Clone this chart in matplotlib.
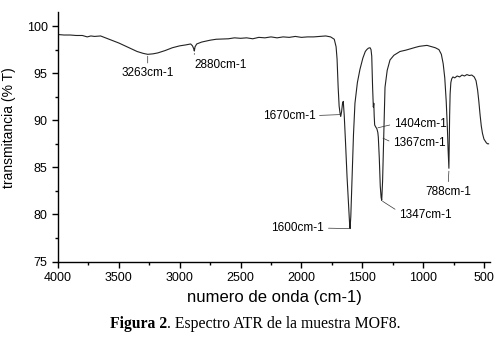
import matplotlib
matplotlib.use("Agg")
import matplotlib.pyplot as plt
from matplotlib.ticker import MultipleLocator

plt.rcParams["font.family"] = ["Liberation Sans", "DejaVu Sans"]

# spectrum (wavenumber cm-1, transmittance %)
wavenumber = [4000, 3950, 3900, 3850, 3800, 3760, 3730, 3700, 3650, 3600,
              3550, 3500, 3450, 3400, 3350, 3300, 3263, 3220, 3180, 3120,
              3060, 3000, 2950, 2910, 2895, 2885, 2880, 2874, 2860, 2820,
              2750, 2700, 2600, 2550, 2500, 2450, 2400, 2350, 2300, 2250,
              2200, 2150, 2100, 2050, 2000, 1950, 1900, 1850, 1800, 1760,
              1730, 1715, 1707, 1698, 1690, 1683, 1677, 1670, 1662, 1656,
              1648, 1638, 1625, 1612, 1604, 1600, 1594, 1585, 1572, 1560,
              1540, 1519, 1495, 1475, 1463, 1450, 1436, 1428, 1422, 1415,
              1409, 1405, 1402, 1398, 1390, 1380, 1372, 1368, 1360, 1352,
              1345, 1340, 1333, 1327, 1320, 1313, 1295, 1272, 1240, 1190,
              1140, 1100, 1060, 1030, 1000, 968, 940, 900, 870,
              850, 835, 822, 810, 800, 795, 790, 788, 786, 782, 778, 772,
              765, 755, 740, 720, 700, 680, 660, 640, 620, 600, 580, 565,
              552, 542, 532, 522, 512, 500, 490, 480, 470, 462]
transmittance = [99.1, 99.05, 99.05, 99.0, 99.0, 98.85, 98.95, 98.9, 98.95, 98.7,
                 98.45, 98.2, 97.9, 97.6, 97.3, 97.1, 97.0, 97.05, 97.15, 97.4,
                 97.7, 97.9, 98.0, 98.1, 97.9, 97.6, 97.35, 97.8, 98.1, 98.3,
                 98.5, 98.6, 98.65, 98.75, 98.7, 98.75, 98.65, 98.8, 98.75, 98.85,
                 98.75, 98.85, 98.8, 98.9, 98.8, 98.85, 98.85, 98.9, 98.95, 98.85,
                 98.6, 97.8, 96.5, 93.5, 91.5, 90.8, 90.4, 90.9, 91.8, 92.0,
                 90.5, 87.8, 84.0, 80.8, 79.0, 78.5, 79.8, 83.5, 88.5, 91.8,
                 94.0, 95.4, 96.6, 97.3, 97.5, 97.65, 97.7, 97.5, 96.8, 93.5,
                 91.4, 91.8, 90.5, 89.5, 89.3, 89.1, 88.7, 88.2, 86.0, 83.0,
                 81.8, 81.5, 83.5, 86.5, 90.0, 93.5, 95.3, 96.4, 96.9, 97.3,
                 97.45, 97.6, 97.75, 97.85, 97.9, 97.95, 97.85, 97.7, 97.5,
                 97.0, 96.0, 94.5, 92.0, 89.0, 87.0, 85.5, 84.9, 87.0, 90.5, 92.8, 94.0,
                 94.4, 94.6, 94.5, 94.7, 94.6, 94.8, 94.7, 94.85, 94.75, 94.8, 94.6, 94.2,
                 93.2, 92.0, 90.6, 89.4, 88.6, 88.0, 87.8, 87.6, 87.5, 87.5]

# peak labels: text, peak position, text position, alignment
peak_text = ["3263cm-1", "2880cm-1", "1670cm-1", "1600cm-1",
             "1404cm-1", "1367cm-1", "1347cm-1", "788cm-1"]
peak_xy = [(3263, 96.8), (2880, 97.1), (1680, 90.6), (1600, 78.5),
           (1371, 89.2), (1330, 88.1), (1333, 81.4), (788, 84.6)]
text_xy = [(3263, 95.0), (2882, 95.9), (1885, 90.5), (1812, 78.55),
           (1240, 89.6), (1247, 87.6), (1198, 79.9), (795, 82.4)]
text_ha = ["center", "left", "right", "right", "left", "left", "left", "center"]
leader_from = [(0.5, 1), (0, 1), (1, 0.5), (1, 0.5),
               (0, 0.5), (0, 0.5), (0, 0.8), (0.5, 1)]

fig = plt.figure(figsize=(4.98, 3.41), dpi=100)
ax = fig.add_axes([0.1165, 0.233, 0.8675, 0.732])

ax.plot(wavenumber, transmittance, color="#222222", lw=0.8)

for txt, xy, xyt, ha, rp in zip(peak_text, peak_xy, text_xy, text_ha, leader_from):
    ax.annotate(txt, xy=xy, xytext=xyt, ha=ha, va="center", fontsize=8.5,
                arrowprops=dict(arrowstyle="-", lw=0.5, color="#333333",
                                shrinkA=1, shrinkB=0, relpos=rp))

ax.set_xlim(4000, 450)
ax.set_ylim(75, 101.5)
ax.xaxis.set_major_locator(MultipleLocator(500))
ax.xaxis.set_minor_locator(MultipleLocator(250))
ax.yaxis.set_major_locator(MultipleLocator(5))
ax.yaxis.set_minor_locator(MultipleLocator(2.5))
ax.tick_params(which="major", direction="out", length=4, width=1, labelsize=9)
ax.tick_params(which="minor", direction="out", length=2.5, width=1)
ax.spines["top"].set_visible(False)
ax.spines["right"].set_visible(False)
for s in ("left", "bottom"):
    ax.spines[s].set_linewidth(1)

ax.set_xlabel("numero de onda (cm-1)", fontsize=12, labelpad=4)
ax.set_ylabel("transmitancia (% T)", fontsize=10)
ax.yaxis.set_label_coords(-0.097, 0.537)

# caption below the chart
cap1 = fig.text(0.221, 0.025, "Figura 2", fontsize=11.3, weight="bold",
                family="Liberation Serif", va="bottom")
ax.annotate(". Espectro ATR de la muestra MOF8.", xy=(1, 0), xycoords=cap1,
            va="bottom", ha="left", fontsize=11.3, family="Liberation Serif")

fig.savefig("out.png", dpi=100)
